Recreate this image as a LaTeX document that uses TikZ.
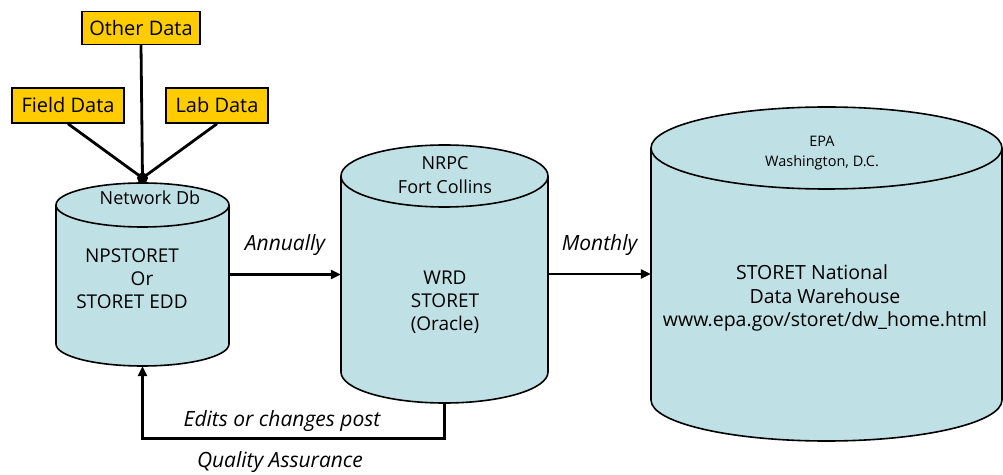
\documentclass[tikz,border=0pt]{standalone}
\usepackage{fontspec}
\setmainfont{Open Sans}
\usetikzlibrary{arrows.meta,positioning,calc}
\definecolor{cSrc}{HTML}{FFCC00}
\definecolor{cDb}{HTML}{BFE1E5}

% database drum: name, centre x, top y, bottom y, x radius, y radius
\newcommand{\dbcyl}[6]{%
  \filldraw[db] (#2-#5,#3) -- (#2-#5,#4)
    arc[start angle=180,end angle=360,x radius=#5,y radius=#6]
    -- (#2+#5,#3)
    arc[start angle=0,end angle=180,x radius=#5,y radius=#6] -- cycle;
  \draw[db,fill=none] (#2-#5,#3)
    arc[start angle=180,end angle=360,x radius=#5,y radius=#6];
  \node[inner sep=0,minimum width=2*#5,minimum height=#3-#4+2*#6]
    (#1) at (#2,{(#3+#4)/2}) {};
}

\begin{document}
\begin{tikzpicture}[
  x=1pt,y=1pt,
  src/.style={draw,fill=cSrc,line width=1.5pt,inner sep=0pt,
              font=\fontsize{20}{22}\selectfont},
  db/.style={draw=black,fill=cDb,line width=1.6pt},
  dt/.style={align=center,font=\fontsize{19}{23}\selectfont},
  st/.style={align=center,font=\fontsize{18}{24}\selectfont},
  lb/.style={font=\fontsize{21}{22}\selectfont\itshape},
  ln/.style={line width=2.8pt},
  fl/.style={-{Triangle[length=10pt,width=9pt]},line width=2.8pt},
  ]
  \useasboundingbox (0,0) rectangle (1003,474);

  % data sources
  \node[src,minimum width=118,minimum height=33] (other) at (141,446) {Other Data};
  \node[src,minimum width=112,minimum height=35] (field) at (68,368.5) {Field Data};
  \node[src,minimum width=102,minimum height=35] (lab) at (217,368.5) {Lab Data};

  % databases
  \dbcyl{npstoret}{142.5}{269}{130}{86.5}{22}
  \dbcyl{wrd}{444.5}{298}{102}{103.5}{31}
  \dbcyl{epa}{826.5}{326}{74}{175.5}{41}

  \node[st] (netdb) at (150,276) {Network Db};
  \node[dt] (npsLbl) at (132,195) {NPSTORET\\\hspace*{20pt}Or\\STORET EDD};
  \node[st] (nrpc) at (445,299) {NRPC\\Fort Collins};
  \node[dt] (wrdLbl) at (445,172) {WRD\\STORET\\(Oracle)};
  \node[align=center,font=\fontsize{14.5}{20}\selectfont] (epaLoc) at (822,321)
    {EPA\\Washington, D.C.};
  \node[dt,font=\fontsize{19.5}{23.5}\selectfont] (epaLbl) at (825,176)
    {STORET National\hspace*{26pt}\\Data Warehouse\hspace*{22pt}\\www.epa.gov/storet/dw\_home.html};

  % links
  \coordinate (hub) at (142.5,296);
  \draw[ln] (other.south) -- (hub);
  \draw[ln] (field.south) -- (hub);
  \draw[ln] (lab.south) -- (hub);
  \fill (hub) circle[radius=5.5];

  \draw[fl] (npstoret.east) -- (npstoret.east -| wrd.west)
    node[lb,midway,yshift=29pt] {Annually};
  \draw[fl] (wrd.east) -- (wrd.east -| epa.west)
    node[lb,midway,yshift=29pt] {Monthly};
  \draw[fl] (wrd.south) -- ++(0,-35) -| (npstoret.south);
  \node[lb] (edits) at (282,53) {Edits or changes post};
  \node[lb] (qa) at (280,12) {Quality Assurance};
\end{tikzpicture}
\end{document}
